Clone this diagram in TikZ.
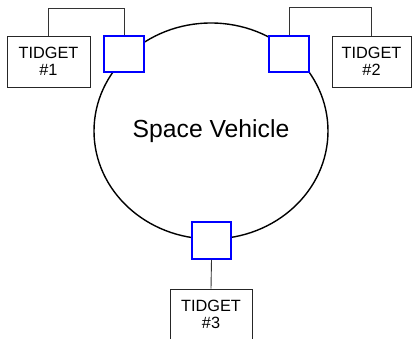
\documentclass[tikz,border=0pt]{standalone}
\usepackage{fontspec}
\setmainfont{Liberation Sans}
\begin{document}
\begin{tikzpicture}[x=1pt,y=-1pt,
  tidget/.style={draw=black!85,line width=0.9pt,fill=white,inner sep=0pt,minimum height=51pt,align=center,font=\fontsize{16.3}{17.4}\selectfont},
  port/.style={draw=blue,line width=1.6pt,fill=white,inner sep=0pt,minimum width=39.5pt,minimum height=36.5pt},
  wire/.style={draw=black!80,line width=0.9pt}]
\useasboundingbox (0,0) rectangle (412,339);
\draw[line width=1.4pt] (211,131) ellipse [x radius=117pt, y radius=108pt];
\node (sv) at (211,131) {\fontsize{24.7}{28}\selectfont Space Vehicle};
\node[port] (p1) at (124,54) {};
\node[port] (p2) at (289,54) {};
\node[port] (p3) at (211.5,240.5) {};
\node[tidget,minimum width=83pt] (t1) at (48.5,61.5) {TIDGET\\\#1};
\node[tidget,minimum width=79pt] (t2) at (371.5,61.5) {TIDGET\\\#2};
\node[tidget,minimum width=82pt] (t3) at (211,314.5) {TIDGET\\\#3};
\draw[wire] (t1.north) -- ++(0,-27) -| (p1.north);
\draw[wire] (p2.north) -- ++(0,-27) -| (t2.north);
\draw[wire] (p3.south) -- (t3.north);
\end{tikzpicture}
\end{document}
